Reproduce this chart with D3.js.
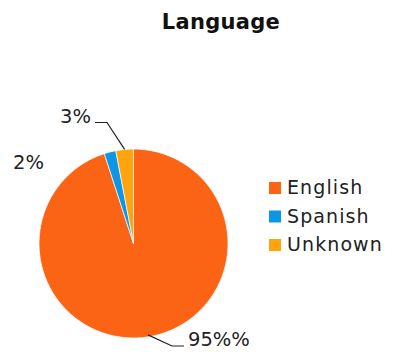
<!DOCTYPE html>
<html><head><meta charset="utf-8">
<script src="https://cdn.jsdelivr.net/npm/d3@7"></script>
<style>body{margin:0;background:#fff}</style>
</head><body>
<svg id="c" width="402" height="352"></svg>
<script>
const categories = ["English", "Spanish", "Unknown"];
const values = [95, 2, 3];
const labels = ["95%%", "2%", "3%"];
const colors = ["#FA6414", "#0E96E4", "#FFA30F"];
const title = "Language";

const svg = d3.select("#c");
const font = "'DejaVu Sans', sans-serif";
svg.append("text").attr("x", 221).attr("y", 29).attr("text-anchor", "middle")
  .attr("font-family", font).attr("font-weight", 700).attr("font-size", 21).attr("letter-spacing", 0.3)
  .attr("fill", "#111").text(title);

const cx = 133.5, cy = 243.5, r = 94.5;
const g = svg.append("g").attr("transform", `translate(${cx},${cy})`);
const pie = d3.pie().sort(null).value(d => d)(values);
const arc = d3.arc().innerRadius(0).outerRadius(r);
g.selectAll("path").data(pie).join("path").attr("d", arc)
  .attr("fill", (d, i) => colors[i]).attr("stroke", "#fff").attr("stroke-width", 0.7);

function pt(a, rad) { return [cx + Math.sin(a) * rad, cy - Math.cos(a) * rad]; }
const lab = svg.append("g").attr("font-family", font).attr("font-size", 19.5).attr("fill", "#222");
// English
{
  const d = pie[0], a = (d.startAngle + d.endAngle) / 2;
  const p0 = pt(a, r - 2);
  svg.append("polyline").attr("points", `${p0[0]},${p0[1]} 172,346 184,346`)
    .attr("fill", "none").attr("stroke", "#222").attr("stroke-width", 1.2);
  lab.append("text").attr("x", 188).attr("y", 346).text(labels[0]);
}
// Spanish
lab.append("text").attr("x", 13).attr("y", 169).text(labels[1]);
// Unknown
{
  const d = pie[2], a = (d.startAngle + d.endAngle) / 2;
  const p0 = pt(a, r);
  svg.append("polyline").attr("points", `${p0[0]},${p0[1]} 107,122.5 95,122.5`)
    .attr("fill", "none").attr("stroke", "#222").attr("stroke-width", 1.2);
  lab.append("text").attr("x", 91).attr("y", 123).attr("text-anchor", "end").text(labels[2]);
}

// legend
const lg = svg.append("g").attr("font-family", font).attr("font-size", 19)
  .attr("letter-spacing", 1.1).attr("fill", "#222");
categories.forEach((c, i) => {
  const y = 182 + i * 28.5;
  lg.append("rect").attr("x", 269).attr("y", y).attr("width", 12).attr("height", 12).attr("fill", colors[i]);
  lg.append("text").attr("x", 287).attr("y", y + 12).text(c);
});
</script>
</body></html>
